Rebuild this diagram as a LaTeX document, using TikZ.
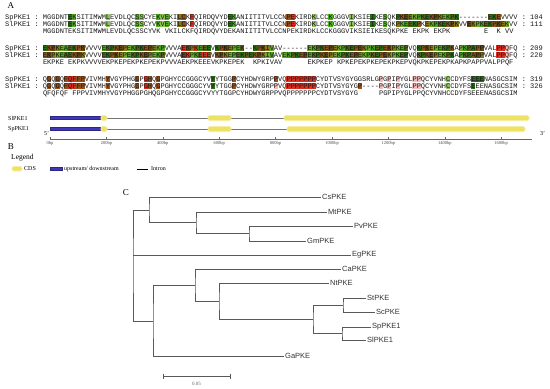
\documentclass[tikz,border=0pt]{standalone}
\usepackage{fontspec}
\setmainfont{Liberation Serif}
\setsansfont{Liberation Sans}
\setmonofont{Liberation Mono}[Ligatures=TeXOff]
\definecolor{c0}{RGB}{40,110,20}
\definecolor{c1}{RGB}{70,160,30}
\definecolor{c2}{RGB}{130,120,20}
\definecolor{c3}{RGB}{140,85,25}
\definecolor{c4}{RGB}{85,100,25}
\definecolor{c5}{RGB}{110,170,40}
\definecolor{c6}{RGB}{100,70,20}
\definecolor{dg}{RGB}{40,110,20}
\definecolor{bg}{RGB}{80,180,30}
\definecolor{lg}{RGB}{140,200,80}
\definecolor{ol}{RGB}{130,120,20}
\definecolor{br}{RGB}{150,80,25}
\definecolor{rd}{RGB}{220,45,30}
\definecolor{pk}{RGB}{245,190,190}
\definecolor{upc}{RGB}{65,55,185}
\definecolor{cdsc}{RGB}{238,226,100}
\newcommand\cyc[4]{\foreach \ci in {#2,...,#3}{\pgfmathtruncatemacro\ck{mod(3*\ci+#4,7)}\fill[c\ck] ({42.8+4.2*\ci},#1-3.4) rectangle ({42.8+4.2*(\ci+1)},#1+3.4);}}
\newcommand\cel[3][]{\foreach \cc/\cq in {#3}{\fill[\cq] ({42.8+4.2*\cc},#2-3.4) rectangle ({42.8+4.2*(\cc+1)},#2+3.4);}}
\begin{document}
\begin{tikzpicture}[x=1pt,y=-1pt,
  seqrow/.style={anchor=base west, inner sep=0pt, font=\fontsize{7}{7}\selectfont\ttfamily, text=black!90},
  panel/.style={inner sep=0pt, font=\fontsize{9}{9}\selectfont},
  leaf/.style={anchor=west, inner sep=1pt, font=\sffamily\fontsize{7.5}{7.5}\selectfont, text=black!80},
  tree/.style={draw=black!65, line width=0.8pt},
  glab/.style={anchor=west, inner sep=0pt, font=\fontsize{6}{6}\selectfont},
  ticklab/.style={anchor=north, inner sep=0pt, font=\fontsize{4.5}{4.5}\selectfont, text=black!70},
  intron/.style={draw=black!55, line width=0.8pt},
  upbar/.style={fill=upc, draw=upc!70!black, line width=0.3pt},
  cds/.style={fill=cdsc, draw=cdsc!60!white, line width=0.8pt, rounded corners=1.5pt},
  axisln/.style={draw=black!60, line width=0.5pt}]
\useasboundingbox (0,0) rectangle (550,389);
\fill[white] (0,0) rectangle (550,389);
% ---------- A: alignment ----------
\node[panel] (labA) at (11,6) {A};
% block 1 cells
\cel{17}{6/dg,7/bg,15/lg,22/bg,23/lg,27/bg,28/lg,29/bg,32/ol,33/br,35/rd,44/dg,45/bg,58/br,59/rd,64/lg,68/bg,73/lg,78/dg,81/bg}
\cyc{17}{84}{98}{0}
\cyc{17}{106}{108}{1}
\cel{24}{6/dg,7/bg,15/lg,22/bg,23/lg,27/bg,28/lg,29/bg,32/ol,33/br,35/rd,44/dg,45/bg,58/br,59/rd,64/lg,68/bg,73/lg,78/dg,81/bg}
\cyc{24}{84}{89}{2}
\cyc{24}{91}{98}{2}
\cyc{24}{101}{110}{4}
% block 2 cells
\cyc{48}{0}{9}{0}\cyc{48}{14}{28}{1}\cyc{48}{33}{39}{2}\cyc{48}{41}{47}{3}\cyc{48}{50}{54}{4}
\cyc{48}{63}{86}{5}\cyc{48}{89}{97}{6}\cyc{48}{99}{104}{2}
\cel{48}{33/rd,36/rd,108/rd,109/rd,110/pk}
\cyc{55}{0}{9}{3}\cyc{55}{14}{28}{4}\cyc{55}{33}{39}{5}\cyc{55}{41}{47}{6}\cyc{55}{48}{54}{0}
\cyc{55}{57}{62}{2}\cyc{55}{63}{86}{1}\cyc{55}{89}{97}{3}\cyc{55}{99}{104}{5}
\cel{55}{34/rd,38/rd,108/rd,109/rd,110/pk}
% block 3 cells
\cel{79}{1/br,3/br,5/br,6/rd,7/rd,8/br,9/br,15/br,22/br,24/rd,25/br,27/br,40/dg,45/br,55/br,58/rd,59/rd,60/rd,61/rd,62/rd,63/rd,64/rd,80/pk,82/pk,84/pk,88/pk,89/pk,96/lg,102/dg,103/dg,104/dg}
\cel{86}{1/br,3/br,5/br,6/rd,7/rd,8/br,9/br,15/br,22/br,24/rd,25/br,27/br,40/dg,45/br,55/pk,58/rd,59/rd,60/rd,61/rd,62/rd,63/rd,64/rd,75/br,80/pk,82/pk,84/pk,88/pk,89/pk,96/lg,102/dg}
% block 1 text
\node[seqrow] (sl1) at (5,26.3) {SlPKE1~:~MGGDNTEKSITIMWMLEVDLQCSSCYVKVEKILCKFQIRDQVYDEKANIITITVLCCNPEKIRDKLCCKGGGVIKSIEIKESQKPKEEKPKEKPKEKPKVVEKPKEKPKEKVV~:~111};
\node[seqrow] (sp1) at (5,19.3) {SpPKE1~:~MGGDNTEKSITIMWMLEVDLQCSSCYEKVEKILCKFQIRDQVYDEKANIITITVLCCNPEKIRDKLCCKGGGVIKSIEIKESQKPKEEKPKEKPKEKPK-------EKEVVVV~:~104};
\node[seqrow] (co1) at (5,33.3) {~~~~~~~~~MGGDNTEKSITIMWMLEVDLQCSSCYVK~VKILCKFQIRDQVYDEKANIITITVLCCNPEKIRDKLCCKGGGVIKSIEIKESQKPKE~EKPK~EKPK~~~~~~~~E~~K~VV};
% block 2 text
\node[seqrow] (sp2) at (5,50.3) {SpPKE1~:~EKPKEAEKPKVVVVEKPKEPEKPKEPEKPVVVAEKPKEEEVKPKEPEK--KPKIVAV------EKPKEPEKPKEPEKPKEPEKPKEPVQKPKEPEKPKAPKPAPPVALPPQFQ~:~209};
\node[seqrow] (sl2) at (5,57.3) {SlPKE1~:~EKPKEAEKPKVVVVEKPKEPEKPKEPEKPVVVAEKPKEEEVKPKEPEKPEKPKIVAVEKPKEPEKPKEPEKPKEPEKPKEPEKPKEPVQKPKEPEKPKAPKPAPPVALPPQFQ~:~220};
\node[seqrow] (co2) at (5,64.3) {~~~~~~~~~EKPKE~EKPKVVVVEKPKEPEKPKEPEKPVVVAEKPKEEEVKPKEPEK~~KPKIVAV~~~~~~EKPKEP~KPKEPEKPKEPEKPKEPVQKPKEPEKPKAPKPAPPVALPPQF};
% block 3 text
\node[seqrow] (sp3) at (5,81.3) {SpPKE1~:~QGQGQFQFFPVIVMHYVGYPHGGPGHQGPGHYCCGGGCYVYYTGGPCYHDWYGRPPVQPPPPPPPCYDTVSYGYGGSRLGPGPIPYGLPPQCYVNHCCDYFSEEENASGCSIM~:~319};
\node[seqrow] (sl3) at (5,88.3) {SlPKE1~:~QGQGQFQFFPVIVMHYVGYPHGGPGHQGPGHYCCGGGCYVYYTGGPCYHDWYGRPPVQPPPPPPPCYDTVSYGYGP----PGPIPYGLPPQCYVNHCCDYFSEEENASGCSIM~:~326};
\node[seqrow] (co3) at (5,95.3) {~~~~~~~~~QFQFQF~FPPVIVMHYVGYPHGGPGHQGPGHYCCGGGCYVYYTGGPCYHDWYGRPPVQPPPPPPPCYDTVSYGYG~~~~~PGPIPYGLPPQCYVNHCCDYFSEEENASGCSIM};
% ---------- gene structure ----------
\node[glab] (gsl) at (8,118) {SlPKE1};
\node[glab] (gsp) at (8,129) {SpPKE1};
\draw[intron] (50,118) -- (528,118);
\draw[intron] (50,129) -- (525,129);
\foreach \y in {118,129}{
  \filldraw[upbar] (50,\y-1.6) rectangle (101,\y+1.6);
  \filldraw[cds] (101,\y-2.6) rectangle (107,\y+2.6);
  \filldraw[cds] (208,\y-2.6) rectangle (231,\y+2.6);
}
\filldraw[cds] (284,115.4) rectangle (529,120.6);
\filldraw[cds] (287,126.4) rectangle (525,131.6);
\node[glab] (five) at (44,134) {5'};
\node[glab] (three) at (540,134) {3'};
\draw[axisln] (50,139) -- (532,139);
\foreach \i/\l in {0/0bp,1/200bp,2/400bp,3/600bp,4/800bp,5/1000bp,6/1200bp,7/1400bp,8/1600bp}{
  \draw[axisln] ({50+56.4*\i},139) -- ({50+56.4*\i},137);
  \node[ticklab] (t\i) at ({50+56.4*\i},141) {\l};
}
\node[panel] (labB) at (11,147) {B};
% legend
\node[glab, font=\fontsize{7.5}{7.5}\selectfont] (leg) at (11,158) {Legend};
\filldraw[cds] (12,166.5) rectangle (22,171);
\node[glab] (lcds) at (24,169) {CDS};
\filldraw[upbar] (50,167.5) rectangle (62,170.5);
\node[glab] (lup) at (64,169) {upstream/ downstream};
\draw[black, line width=0.5pt] (137,169) -- (148,169);
\node[glab] (lin) at (151,169) {Intron};
% ---------- C: tree ----------
\node[panel] (labC) at (126,193) {C};
\node[leaf] (cs) at (321,197) {CsPKE};
\node[leaf] (mt) at (327,212) {MtPKE};
\node[leaf] (pv) at (353,226) {PvPKE};
\node[leaf] (gm) at (306,241) {GmPKE};
\node[leaf] (eg) at (351,255) {EgPKE};
\node[leaf] (ca) at (341,269) {CaPKE};
\node[leaf] (nt) at (329,283) {NtPKE};
\node[leaf] (st) at (366,298) {StPKE};
\node[leaf] (sc) at (375,312) {ScPKE};
\node[leaf] (sp) at (371,327) {SpPKE1};
\node[leaf] (sl) at (366,340) {SlPKE1};
\node[leaf] (ga) at (284,356) {GaPKE};
\coordinate (nC) at (249,233.5);
\coordinate (nB) at (196,222.75);
\coordinate (nA) at (149,210);
\coordinate (nI) at (343,305);
\coordinate (nJ) at (342,333.5);
\coordinate (nH) at (313,319);
\coordinate (nE) at (219,301);
\coordinate (nD) at (195,285.5);
\coordinate (nG) at (153,321);
\coordinate (r) at (133,265.5);
\draw[tree] (pv.west) -| (nC) |- (gm.west);
\draw[tree] (mt.west) -| (nB) |- (nC);
\draw[tree] (cs.west) -| (nA) |- (nB);
\draw[tree] (st.west) -| (nI) |- (sc.west);
\draw[tree] (sp.west) -| (nJ) |- (sl.west);
\draw[tree] (nI) -| (nH) |- (nJ);
\draw[tree] (nt.west) -| (nE) |- (nH);
\draw[tree] (ca.west) -| (nD) |- (nE);
\draw[tree] (nD) -| (nG) |- (ga.west);
\draw[tree] (nA) -| (r) |- (nG);
\draw[tree] (r |- eg.west) -- (eg.west);
\coordinate (sb1) at (163,376);
\coordinate (sb2) at (230,376);
\draw[tree] (sb1) -- (sb2);
\draw[tree] ([yshift=2.5pt]sb1) -- ([yshift=-2.5pt]sb1);
\draw[tree] ([yshift=2.5pt]sb2) -- ([yshift=-2.5pt]sb2);
\node[inner sep=0pt, font=\fontsize{5}{5}\selectfont, text=black!60] (sbl) at (196.5,383.5) {0.05};
\end{tikzpicture}
\end{document}
